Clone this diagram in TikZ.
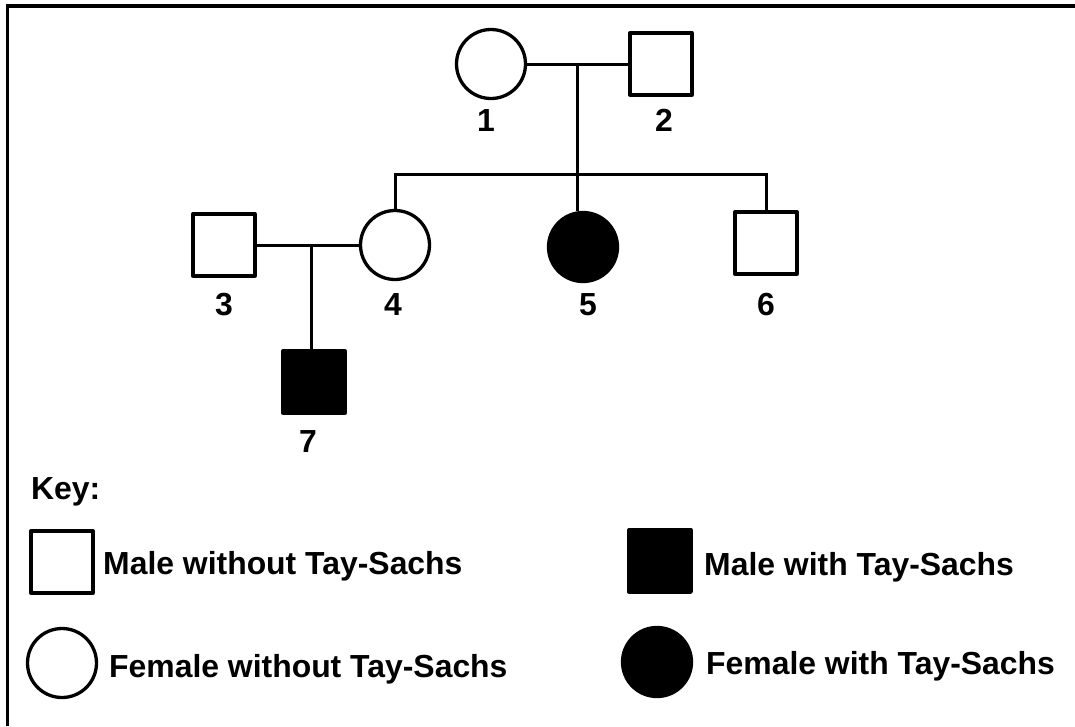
\documentclass[tikz,border=0pt]{standalone}
\usepackage{fontspec}
\setmainfont{Liberation Sans}
\usepackage{tikz}
\usetikzlibrary{positioning,calc}

\begin{document}
\begin{tikzpicture}[
    x=1pt, y=-1pt,
    every node/.style={font=\fontsize{31.9pt}{38pt}\selectfont\bfseries},
    male/.style={draw, rectangle, line width=3.3pt, line join=round, minimum size=62pt, inner sep=0pt},
    female/.style={draw, circle, line width=3.3pt, minimum size=69pt, inner sep=0pt},
    affected/.style={fill=black},
    num/.style={anchor=base, inner sep=0pt},
    keytext/.style={anchor=base west, inner sep=0pt},
    link/.style={line width=3pt}
]
\useasboundingbox (0,0) rectangle (1075,726);

% frame (cut off at right and bottom)
\draw[line width=3.5pt] (7.5,726) -- (7.5,6) -- (1075,6);

% generation I
\node[female] (p1) at (491,64) {};
\node[male] (p2) at (661,64) {};
\node[num] (n1) at (486,131) {1};
\node[num] (n2) at (664,131) {2};

% generation II
\node[male] (p3) at (224,245) {};
\node[female] (p4) at (395,245) {};
\node[female, affected] (p5) at (583,247) {};
\node[male] (p6) at (766,243) {};
\node[num] (n3) at (224,315) {3};
\node[num] (n4) at (393,315) {4};
\node[num] (n5) at (588,315) {5};
\node[num] (n6) at (766,315) {6};

% generation III
\node[male, affected] (p7) at (314,382) {};
\node[num] (n7) at (308,452) {7};

% marriages and descent
\coordinate (m12) at (577,64);
\coordinate (sib) at (577,174);
\coordinate (m34) at (311,245);
\draw[link] (p1.east) -- (p2.west);
\draw[link] (m12) -- (m12 |- p5.north);
\draw[link] (p4.north) -- (p4.north |- sib) -- (p6.north |- sib) -- (p6.north);
\draw[link] (p3.east) -- (p4.west);
\draw[link] (m34) -- (m34 |- p7.north);

% key
\node[keytext] (keyhead) at (31,499) {Key:};
\node[male] (k1) at (62,562) {};
\node[keytext] (t1) at (103,574) {Male without Tay-Sachs};
\node[female] (k2) at (62,663) {};
\node[keytext] (t2) at (109,677) {Female without Tay-Sachs};
\node[male, affected] (k3) at (660,561) {};
\node[keytext] (t3) at (704,575) {Male with Tay-Sachs};
\node[female, affected] (k4) at (657,662) {};
\node[keytext] (t4) at (706,674) {Female with Tay-Sachs};
\end{tikzpicture}
\end{document}
